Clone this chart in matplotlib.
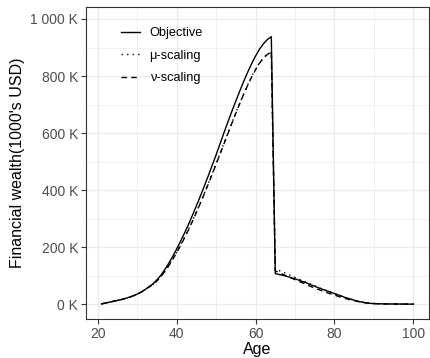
import numpy as np
import matplotlib
matplotlib.use("Agg")
import matplotlib.pyplot as plt
from matplotlib.ticker import FuncFormatter, MultipleLocator

plt.rcParams['font.family'] = ['Liberation Sans', 'DejaVu Sans']

ages = list(range(21, 101))

objective = [1, 4, 7, 10, 13, 16, 20, 24, 29, 35, 42, 51, 61, 71, 85, 101, 121, 143, 167, 193,
             220, 249, 279, 311, 344, 378, 413, 449, 486, 523, 562, 601, 639, 676, 712, 747,
             781, 813, 843, 870, 894, 913, 928, 938,
             107, 104, 101, 97, 93, 89, 84, 79, 74, 68, 63, 57, 52, 47, 42, 37, 32, 27, 22,
             18, 14, 10, 7, 5, 3, 2, 1.5, 1, 0.8, 0.6, 0.5, 0.4, 0.3, 0.2, 0.1, 0]

mu_scaling = [1, 4, 7, 10, 13, 16, 20, 24, 29, 35, 42, 51, 60, 69, 82, 97, 115, 136, 158, 182,
              207, 234, 262, 292, 323, 355, 388, 422, 457, 492, 528, 564, 600, 636, 671, 705,
              738, 769, 798, 824, 846, 864, 876, 882,
              124, 118, 112, 106, 100, 94, 88, 82, 76, 70, 64, 58, 52, 47, 42, 37, 32, 27, 22,
              18, 14, 10, 7, 5, 3, 2, 1.5, 1, 0.8, 0.6, 0.5, 0.4, 0.3, 0.2, 0.1, 0]

nu_scaling = [1, 4, 7, 10, 13, 16, 20, 24, 29, 35, 42, 51, 60, 68, 81, 96, 114, 134, 156, 180,
              205, 232, 260, 290, 321, 353, 386, 420, 455, 490, 526, 562, 598, 634, 669, 703,
              736, 767, 796, 822, 845, 863, 876, 884,
              117, 110, 104, 98, 92, 86, 80, 74, 68, 62, 56, 51, 46, 41, 36, 32, 27, 23, 19,
              15, 12, 9, 6, 4, 3, 2, 1.5, 1, 0.8, 0.6, 0.5, 0.4, 0.3, 0.2, 0.1, 0]

series_labels = ["Objective", "\u03bc-scaling", "\u03bd-scaling"]

fig = plt.figure(figsize=(4.31, 3.58), dpi=100)
ax = fig.add_axes([0.1995, 0.109, 0.7959, 0.8714])

ax.plot(ages, objective, color='black', lw=1.0, ls='-', label=series_labels[0])
ax.plot(ages, mu_scaling, color='black', lw=1.0, ls=(0, (1, 3)), label=series_labels[1])
ax.plot(ages, nu_scaling, color='black', lw=1.0, ls=(0, (4, 3)), label=series_labels[2])

ax.set_xlim(17.05, 103.95)
ax.set_ylim(-52, 1042)
ax.xaxis.set_major_locator(MultipleLocator(20))
ax.xaxis.set_minor_locator(MultipleLocator(10))
ax.yaxis.set_major_locator(MultipleLocator(200))
ax.yaxis.set_minor_locator(MultipleLocator(100))

def kfmt(v, pos):
    v = int(round(v))
    s = f"{v:,}".replace(",", " ")
    return f"{s} K"
ax.yaxis.set_major_formatter(FuncFormatter(kfmt))

ax.grid(which='major', color='#ebebeb', lw=0.9)
ax.grid(which='minor', color='#ebebeb', lw=0.5)
ax.set_axisbelow(True)
for s in ax.spines.values():
    s.set_color('#333333')
    s.set_linewidth(0.8)
ax.tick_params(which='major', length=3.5, width=0.8, color='#333333', labelsize=10,
               labelcolor='#4d4d4d', pad=2)
ax.tick_params(which='minor', length=0)

ax.set_xlabel("Age", fontsize=11.5, labelpad=1)
ax.set_ylabel("Financial wealth(1000's USD)", fontsize=11.5, labelpad=4)

ax.legend(loc='upper left', bbox_to_anchor=(0.07, 0.972), frameon=False, fontsize=9.2,
          handlelength=1.45, handletextpad=0.75, labelspacing=0.82)

fig.savefig("out.png", dpi=100)
